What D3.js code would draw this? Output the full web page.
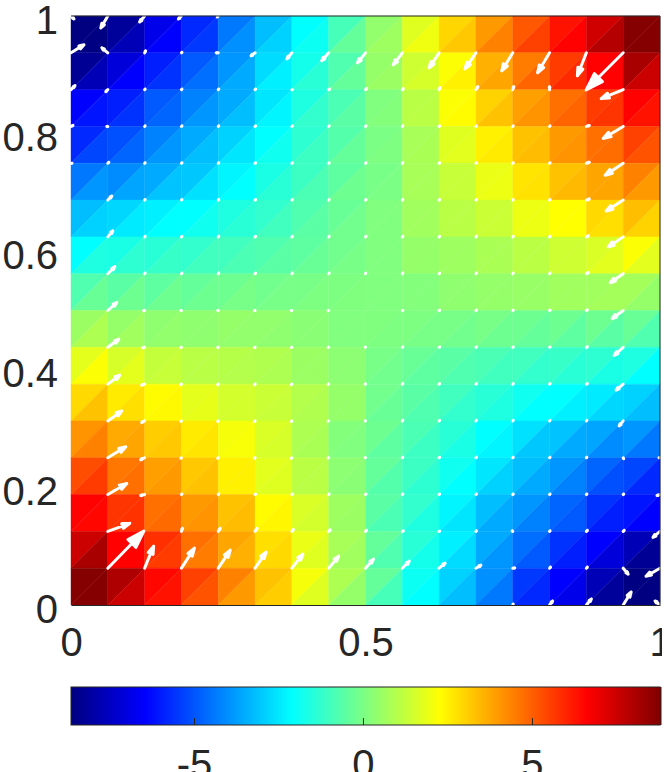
<!DOCTYPE html>
<html>
<head>
<meta charset="utf-8">
<script src="https://cdn.jsdelivr.net/npm/d3@7"></script>
<style>
  body { margin: 0; background: #fff; }
  text { font-family: "Liberation Sans", Arial, sans-serif; }
</style>
</head>
<body>
<svg id="chart" width="665" height="772"></svg>
<script>
// Values of the upper-left triangle of every mesh cell, top row first
const upperTri = [
  [-8.7,-8.2,-6.8,-5.78,-4.4,-3.21,-2.1,-0.91,0.4,1.7,2.95,4.0,5.1,6.3,7.4,8.7],
  [-8.3,-7.1,-5.95,-4.92,-3.9,-2.7,-1.76,-0.74,0.45,1.4,2.2,3.6,4.5,5.6,6.6,8.1],
  [-6.46,-5.95,-4.92,-4.24,-3.55,-2.53,-1.59,-0.83,0.1,1.05,2.2,3.0,3.9,4.7,5.6,6.6],
  [-5.78,-5.09,-4.24,-3.55,-2.87,-2.1,-1.34,-0.66,0,0.75,1.7,2.5,3.3,4.0,4.7,5.5],
  [-4.41,-4.07,-3.55,-3.04,-2.27,-1.68,-1.08,-0.49,-0.05,0.75,1.3,1.9,2.7,3.3,3.8,4.4],
  [-3.21,-2.78,-2.36,-2.1,-1.59,-1.25,-0.74,-0.32,0.1,0.65,1.05,1.35,1.95,2.25,2.9,3.35],
  [-2.1,-1.68,-1.42,-1.25,-1.0,-0.74,-0.49,-0.15,0.1,0.45,0.6,0.8,1.1,1.4,1.6,2.2],
  [-0.74,-0.57,-0.49,-0.4,-0.23,-0.15,-0.06,0.03,0.1,0.15,0.35,0.45,0.5,0.65,0.65,0.7],
  [0.55,0.45,0.35,0.35,0.45,0.4,0.25,0.1,0.08,0.03,-0.06,-0.06,-0.23,-0.23,-0.23,-0.32],
  [1.8,1.55,1.25,1.05,1.0,0.9,0.55,0.3,-0.06,-0.32,-0.57,-0.83,-1.0,-1.17,-1.34,-1.59],
  [2.9,2.6,2.3,1.8,1.5,1.35,0.95,0.45,-0.15,-0.57,-1.0,-1.42,-1.85,-2.1,-2.44,-2.87],
  [4.1,3.7,3.1,2.6,2.1,1.6,0.85,0.15,-0.23,-0.83,-1.42,-2.1,-2.61,-3.13,-3.64,-3.9],
  [5.3,4.6,3.9,3.2,2.5,1.75,1.1,0.3,-0.4,-1.08,-1.85,-2.53,-3.21,-3.9,-4.75,-5.26],
  [6.6,5.7,4.7,4.0,3.3,2.3,1.6,0.6,-0.57,-1.25,-2.27,-3.21,-3.9,-4.75,-5.6,-6.12],
  [7.5,6.6,5.8,4.7,3.8,2.8,1.9,0.75,-0.4,-1.42,-2.36,-3.55,-4.58,-5.6,-6.46,-7.7],
  [8.7,8.0,6.5,5.5,4.4,3.3,2.1,0.85,-0.4,-1.9,-2.87,-4.0,-5.5,-6.46,-7.7,-8.6]
];

// Values of the lower-right triangle of every mesh cell
const lowerTri = [
  [-8.6,-7.7,-6.46,-5.5,-4.0,-2.87,-1.9,-0.4,0.6,2.0,3.2,4.4,5.5,6.6,7.9,8.7],
  [-7.7,-6.46,-5.6,-4.58,-3.55,-2.36,-1.42,-0.4,0.55,1.55,2.5,3.8,4.9,5.9,6.6,7.5],
  [-6.12,-5.6,-4.75,-3.9,-3.21,-2.27,-1.25,-0.57,0.15,1.1,2.3,3.3,4.1,4.9,5.7,6.3],
  [-5.26,-4.75,-3.9,-3.21,-2.53,-1.85,-1.08,-0.4,0.05,0.8,1.75,2.6,3.4,4.1,4.75,5.2],
  [-3.9,-3.64,-3.13,-2.61,-2.1,-1.42,-0.83,-0.23,0,0.75,1.3,1.95,2.75,3.45,3.8,4.0],
  [-2.87,-2.44,-2.1,-1.85,-1.42,-1.0,-0.57,-0.15,0.1,0.65,1.05,1.35,1.95,2.25,2.8,3.0],
  [-1.59,-1.34,-1.17,-1.0,-0.83,-0.57,-0.32,-0.06,0.1,0.45,0.6,0.8,1.1,1.4,1.75,1.75],
  [-0.32,-0.23,-0.23,-0.23,-0.06,-0.06,0.03,0.08,0.1,0.15,0.35,0.45,0.5,0.65,0.7,0.45],
  [0.85,0.65,0.4,0.35,0.4,0.35,0.25,0.1,0.03,-0.06,-0.15,-0.23,-0.4,-0.49,-0.57,-0.74],
  [2.2,1.8,1.3,1.05,0.95,0.85,0.55,0.3,-0.15,-0.49,-0.74,-1.0,-1.25,-1.42,-1.68,-2.1],
  [3.3,2.8,2.35,1.85,1.5,1.3,0.9,0.45,-0.32,-0.74,-1.25,-1.59,-2.1,-2.36,-2.78,-3.21],
  [4.4,3.8,3.2,2.7,2.15,1.55,0.8,0.1,-0.49,-1.08,-1.68,-2.27,-3.04,-3.55,-4.07,-4.41],
  [5.6,4.7,4.0,3.3,2.5,1.7,1.05,0.25,-0.66,-1.34,-2.1,-2.87,-3.55,-4.24,-5.09,-5.78],
  [6.5,5.75,4.8,4.1,3.4,2.4,1.5,0.55,-0.83,-1.59,-2.53,-3.55,-4.24,-4.92,-5.95,-6.46],
  [8.1,6.6,5.6,4.5,3.6,2.9,1.7,0.65,-0.74,-1.76,-2.7,-3.9,-4.92,-5.95,-7.1,-8.3],
  [8.7,7.5,6.3,5.2,4.0,3.1,1.7,0.45,-0.91,-2.1,-3.21,-4.4,-5.78,-6.8,-8.2,-8.7]
];

// Quiver components at the mesh nodes, top row first, 0 means no arrow
const quiverU = [
  [3,-7,-5,-3,-1,0,0,0,0,0,0,0,0,0,0,0,0],
  [13,-6,1,.5,-2,-4,-5,-7,-8,-9,-10,-11,-11,-12,-9,-37,0],
  [4,-2,.5,.5,.5,.5,.5,1,1,1,1,2,1,0,0,-22,0],
  [2,-1,.5,.5,.5,.5,.5,.5,.5,.5,.5,.5,.5,.5,3,-20,0],
  [1,1,.5,.5,.5,.5,.5,.5,.5,.5,.5,.5,.5,.5,3,-18,0],
  [0,4,.5,.5,.5,.5,.5,.5,.5,.5,.5,.5,.5,.5,3,-17,0],
  [0,5,.5,.5,.5,.5,.5,.5,.5,.5,.5,.5,.5,.5,2,-15,0],
  [0,7,.5,.5,.5,.5,.5,.5,.2,.5,.5,.5,.5,.5,2,-13,0],
  [0,9,-1,-.5,-.5,-.5,-.5,-.5,0,.5,.5,.5,.5,.5,1,-11,0],
  [0,11,-2,-.5,-.5,-.5,-.5,-.5,-.2,.5,.5,.5,.5,.5,1,-9,0],
  [0,12,-3,-.5,-.5,-.5,-.5,-.5,-.2,.5,.5,.5,.5,.5,1,-7,0],
  [0,14,-3,-.5,-.5,-.5,-.5,-.5,-.2,.5,.5,.5,.5,.5,.5,-4,0],
  [0,18,-4,-.5,-.5,-.5,-.5,-.5,-.2,.5,.5,.5,.5,.5,.5,.5,-1],
  [0,19,-4,.5,.5,.5,.5,.5,.5,.5,.5,.5,.5,.5,.5,.5,-3],
  [0,22,0,1,2,2,1.5,1.5,1,1,.5,.5,-.5,.5,1,1,-7],
  [0,36,9,13,12,11,11,10,8,7,6,5,2,1,1,5,-14],
  [0,0,0,0,0,0,0,0,0,0,0,0,.5,3,5,8,-5]
];

const quiverV = [
  [-3,-12,-6,-3,-1,0,0,0,0,0,0,0,0,0,0,0,0],
  [8,5,2,.5,0,-3,-6,-8,-10,-12,-15,-16,-18,-20,-23,-37,0],
  [4,-2,.5,.5,.5,.5,0,.5,1,1,2,3,3,3,0,-9,0],
  [1,0,.5,.5,.5,.5,.5,.5,.5,.5,.5,.5,.5,.5,1,-12,0],
  [0,1,.5,.5,.5,.5,.5,.5,.5,.5,.5,.5,.5,.5,1,-12,0],
  [0,4,.5,.5,.5,.5,.5,.5,.5,.5,.5,.5,.5,.5,1,-11,0],
  [0,6,.5,.5,.5,.5,.5,.5,.5,.5,.5,.5,.5,.5,1,-10,0],
  [0,7,.5,.5,.5,.5,.5,.5,.5,.5,.5,.5,.5,.5,1,-9,0],
  [0,8,0,0,0,0,0,0,0,0,.2,.2,.2,.2,.5,-8,0],
  [0,8,-.5,-.2,-.2,-.2,-.2,-.2,.2,.2,.2,.2,.2,.2,.5,-8,0],
  [0,9,-1,-.5,-.5,-.5,-.5,-.2,.2,.5,.5,.5,.5,.5,.5,-6,0],
  [0,10,-1.5,-.5,-.5,-.5,-.5,-.2,.2,.5,.5,.5,.5,.5,.5,-5,0],
  [0,11,-2,-.5,-.5,-.5,-.5,-.2,.2,.5,.5,.5,.5,.5,.5,-1,0],
  [0,11,-1,.5,.5,.5,.5,.5,.5,.5,.5,.5,.5,.5,.5,.5,-1],
  [0,8,0,3,3,3,2,1.5,1,.5,.2,.5,.5,.5,1,1,-6],
  [0,37,22,20,18,16,14,12,9,7,5,3,.2,1,1,-6,-8],
  [0,0,0,0,0,0,0,0,0,0,0,0,1,4,6,13,4]
];

const colorLimits = [-8.64, 8.79];
const xTicks = [0, 0.5, 1];
const yTicks = [0, 0.2, 0.4, 0.6, 0.8, 1];
const colorTicks = [-5, 0, 5];

const svg = d3.select("#chart");
const x = d3.scaleLinear().domain([0, 1]).range([71, 660]);
const y = d3.scaleLinear().domain([0, 1]).range([605, 16]);
const cbarX = d3.scaleLinear().domain(colorLimits).range([71, 660]);
const cbarTop = 687, cbarBottom = 725;
const inkColor = "#262626";
const cells = upperTri.length;

// jet colormap
const jet = d3.scaleLinear()
    .domain([0, 1 / 8, 3 / 8, 5 / 8, 7 / 8, 1].map(t => colorLimits[0] + t * (colorLimits[1] - colorLimits[0])))
    .range(["#000080", "#0000ff", "#00ffff", "#ffff00", "#ff0000", "#800000"])
    .clamp(true);

// Build the triangles, every cell is cut from bottom left to top right
const triangles = [];
upperTri.forEach((row, r) => {
    row.forEach((value, c) => {
        const x0 = c / cells, x1 = (c + 1) / cells;
        const yTop = 1 - r / cells, yBot = 1 - (r + 1) / cells;
        triangles.push({ value: value, pts: [[x0, yBot], [x0, yTop], [x1, yTop]] });
        triangles.push({ value: lowerTri[r][c], pts: [[x0, yBot], [x1, yBot], [x1, yTop]] });
    });
});

svg.append("g").selectAll("path")
    .data(triangles)
    .enter().append("path")
    .attr("d", d => "M" + d.pts.map(p => [x(p[0]), y(p[1])].join(",")).join("L") + "Z")
    .attr("fill", d => jet(d.value))
    .attr("stroke", d => jet(d.value))
    .attr("stroke-width", 0.4);

// Quiver arrows, tail on the node and a filled head at the tip
const quiverScale = 1 / 589;
const arrows = [];
quiverU.forEach((row, j) => {
    row.forEach((u, i) => {
        const v = quiverV[j][i];
        if (u !== 0 || v !== 0) arrows.push({ i: i, j: j, u: u, v: v });
    });
});

function arrowPath(d) {
    const tx = x(d.i / cells), ty = y(1 - d.j / cells);
    const hx = x(d.i / cells + d.u * quiverScale), hy = y(1 - d.j / cells + d.v * quiverScale);
    const dx = hx - tx, dy = hy - ty;
    const a = 0.33, b = 0.33;
    const p = d3.path();
    p.moveTo(tx, ty);
    p.lineTo(hx, hy);
    p.lineTo(hx - a * (dx + b * dy), hy - a * (dy - b * dx));
    p.lineTo(hx - a * (dx - b * dy), hy - a * (dy + b * dx));
    p.lineTo(hx, hy);
    return p.toString();
}

svg.append("g").selectAll("path")
    .data(arrows)
    .enter().append("path")
    .attr("d", arrowPath)
    .attr("fill", "#fff")
    .attr("stroke", "#fff")
    .attr("stroke-width", 3)
    .attr("stroke-linecap", "round")
    .attr("stroke-linejoin", "round");

// Axes
function styleAxis(g) {
    g.selectAll(".tick line").remove();
    g.selectAll("text").attr("fill", inkColor).style("font-size", "40px");
    g.select(".domain").attr("stroke", inkColor);
}

svg.append("g")
    .attr("transform", `translate(0,${y(0)})`)
    .call(d3.axisBottom(x).tickValues(xTicks).tickFormat(String).tickSize(0).tickPadding(23))
    .call(styleAxis);

svg.append("g")
    .attr("transform", `translate(${x(0)},0)`)
    .call(d3.axisLeft(y).tickValues(yTicks).tickFormat(String).tickSize(0).tickPadding(13))
    .call(styleAxis)
    .call(g => g.select(".domain").remove())
    .call(g => g.selectAll("text").attr("dy", "0.425em"));

// Top and right edge of the box
svg.append("path")
    .attr("d", `M${x(0)},${y(1)}H${x(1)}V${y(0)}`)
    .attr("fill", "none")
    .attr("stroke", inkColor);

// Colorbar
const cbarSteps = d3.range(0, 590);
const cbarValue = d3.scaleLinear().domain([0, 589]).range(colorLimits);
svg.append("g").selectAll("rect")
    .data(cbarSteps)
    .enter().append("rect")
    .attr("x", d => cbarX(cbarValue(d)))
    .attr("y", cbarTop)
    .attr("width", 1.5)
    .attr("height", cbarBottom - cbarTop)
    .attr("fill", d => jet(cbarValue(d)));

svg.append("rect")
    .attr("x", cbarX.range()[0])
    .attr("y", cbarTop)
    .attr("width", cbarX.range()[1] - cbarX.range()[0])
    .attr("height", cbarBottom - cbarTop)
    .attr("fill", "none")
    .attr("stroke", inkColor);

svg.append("g")
    .attr("transform", `translate(0,${cbarBottom})`)
    .call(d3.axisBottom(cbarX).tickValues(colorTicks).tickFormat(String).tickSizeOuter(0).tickSize(-7).tickPadding(25))
    .call(g => g.select(".domain").remove())
    .call(g => g.selectAll("text").attr("fill", inkColor).style("font-size", "40px"))
    .call(g => g.selectAll(".tick line").attr("stroke", inkColor));

// The original is cut just right of the plot
svg.append("rect").attr("x", 662).attr("y", 0).attr("width", 3).attr("height", 772).attr("fill", "#fff");
</script>
</body>
</html>
